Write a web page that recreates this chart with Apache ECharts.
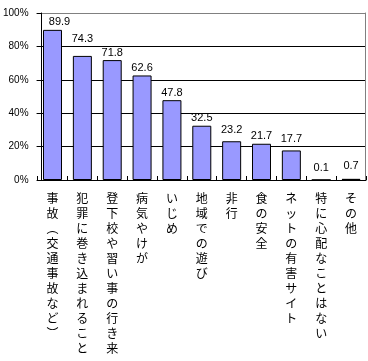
<!DOCTYPE html>
<html><head><meta charset="utf-8">
<script src="https://cdn.jsdelivr.net/npm/echarts@6/dist/echarts.min.js"></script>
<style>html,body{margin:0;padding:0;background:#fff}#c{width:368px;height:361px}</style>
</head><body><div id="c"></div>
<script>
const categories = ['事故（交通事故など）','犯罪に巻き込まれること','登下校や習い事の行き来','病気やけが','いじめ','地域での遊び','非行','食の安全','ネットの有害サイト','特に心配なことはない','その他'];
const values = [89.9, 74.3, 71.8, 62.6, 47.8, 32.5, 23.2, 21.7, 17.7, 0.1, 0.7];
const yMin = 0, yMax = 100, yStep = 20;

// manual nudges of some data labels, as placed in the original chart
const labelNudge = {0: [7, 0], 1: [0, -9], 6: [0, -4], 8: [0, -4], 9: [0, -4], 10: [0, -5]};

const chart = echarts.init(document.getElementById('c'), null, {renderer: 'canvas'});
const vert = s => s.replace('（', '︵').replace('）', '︶').split('').join('\n');
const seriesData = values.map((v, i) => labelNudge[i] ? {value: v, label: {offset: labelNudge[i]}} : v);
chart.setOption({
  animation: false,
  backgroundColor: '#fff',
  grid: {left: 36, top: 13, width: 330, height: 167, containLabel: false},
  xAxis: {
    type: 'category',
    data: categories,
    axisLine: {lineStyle: {color: '#000', width: 1}},
    axisTick: {show: true, inside: true, length: 4, lineStyle: {color: '#000'}},
    axisLabel: {
      interval: 0, margin: 11, color: '#000',
      fontFamily: 'Noto Sans CJK JP', fontSize: 12, lineHeight: 15,
      verticalAlign: 'top',
      formatter: v => vert(v)
    },
    splitLine: {show: false}
  },
  yAxis: [{
    type: 'value', min: yMin, max: yMax, interval: yStep,
    offset: -4,
    axisLine: {show: true, lineStyle: {color: '#000'}},
    axisTick: {show: true, length: 5, lineStyle: {color: '#000'}},
    axisLabel: {formatter: '{value}%', color: '#000', fontFamily: 'Liberation Sans', fontSize: 10, margin: 13},
    splitLine: {show: true, lineStyle: {color: ['#000','#000','#000','#000','#000','#808080'], width: 1}}
  }, {
    type: 'value', min: yMin, max: yMax, interval: yStep, position: 'right', offset: -1,
    axisLine: {show: true, lineStyle: {color: '#808080'}},
    axisTick: {show: false}, axisLabel: {show: false}, splitLine: {show: false}
  }],
  series: [{
    type: 'bar',
    data: seriesData,
    barWidth: 19,
    itemStyle: {color: '#9999FF', borderColor: '#000', borderWidth: 1},
    label: {show: true, position: 'top', distance: 2, color: '#000', fontFamily: 'Liberation Sans', fontSize: 11,
      formatter: p => Number(p.value).toFixed(1)}
  }]
});
</script></body></html>
